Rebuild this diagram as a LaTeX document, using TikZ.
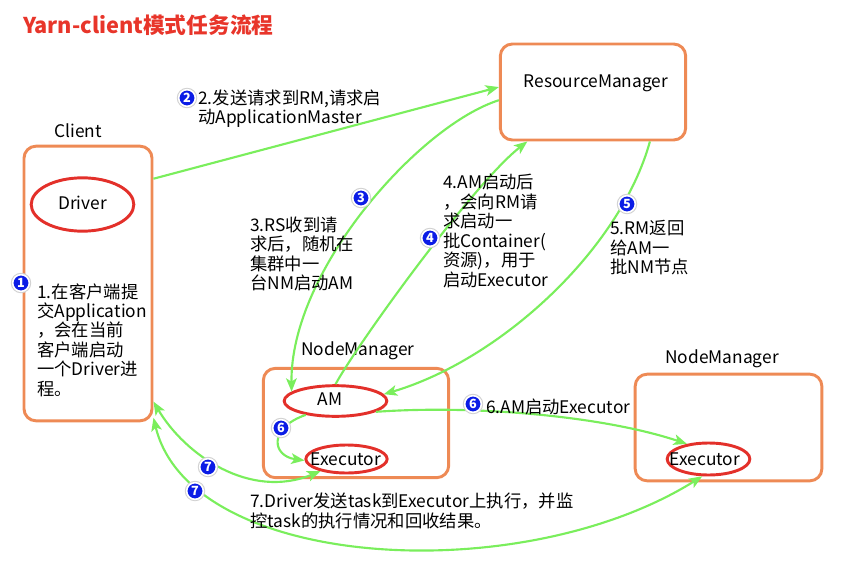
\documentclass[tikz,border=0pt]{standalone}
\usepackage{fontspec}
\setmainfont{Noto Sans CJK SC}
\definecolor{boxorange}{HTML}{EE8A55}
\definecolor{procred}{HTML}{E3302A}
\definecolor{flowgreen}{HTML}{7AEE5C}
\definecolor{badgeblue}{HTML}{0B1CE6}
\definecolor{titlered}{HTML}{E8352A}
\usetikzlibrary{arrows.meta,shapes.geometric}

\tikzset{
  nodebox/.style={rectangle, draw=boxorange, line width=2.2pt,
    rounded corners=9pt, inner sep=0pt},
  proc/.style={ellipse, draw=procred, line width=2.2pt, inner sep=0pt},
  flow/.style={draw=flowgreen, line width=1.6pt,
    -{Stealth[length=10pt,width=8pt,inset=2.5pt]}},
  flowboth/.style={flow,
    {Stealth[length=10pt,width=8pt,inset=2.5pt]}-{Stealth[length=10pt,width=8pt,inset=2.5pt]}},
  badge/.style={circle, fill=badgeblue, draw=white, line width=1.2pt,
    preaction={draw=black!18, line width=2.8pt}, text=white,
    font=\bfseries\fontsize{9.5}{9.5}\selectfont, minimum size=12.5pt, inner sep=0pt},
  note/.style={anchor=west, align=left, inner sep=0pt,
    font=\fontsize{13}{14.6}\selectfont},
  tag/.style={inner sep=0pt, font=\fontsize{13}{14.6}\selectfont}
}

\begin{document}
\begin{tikzpicture}[x=0.75pt, y=-0.75pt]
  \useasboundingbox (0,0) rectangle (862,570);

  \node[anchor=west, inner sep=0pt, text=titlered,
    font=\bfseries\fontsize{16.3}{19}\selectfont] (title) at (23,25)
    {Yarn-client模式任务流程};

  % client side
  \node[tag] (clientlbl) at (78,131) {Client};
  \node[nodebox, minimum width=96pt, minimum height=206pt] (client) at (88,283.5) {};
  \node[proc, minimum width=77pt, minimum height=40pt] (driver) at (82.5,204.5) {};
  \node[tag] (drivertxt) at (82.5,203) {Driver};
  \node[note] (note1) at (37,340)
    {1.在客户端提\\交Application\\，会在当前\\客户端启动\\一个Driver进\\程。};
  \node[badge] (b1) at (21,283) {1};

  % resource manager
  \node[nodebox, minimum width=139pt, minimum height=72pt] (rm) at (593,92) {};
  \node[tag] (rmtxt) at (596,83) {ResourceManager};

  % node managers
  \node[tag] (nm1lbl) at (358,351) {NodeManager};
  \node[nodebox, minimum width=139pt, minimum height=82pt] (nm1) at (356,423) {};
  \node[proc, minimum width=77pt, minimum height=23pt] (am) at (335.5,401) {};
  \node[tag] (amtxt) at (330,399) {AM};
  \node[proc, minimum width=61pt, minimum height=21pt] (exec1) at (346.5,459) {};
  \node[tag] (exec1txt) at (346,459) {Executor};

  \node[tag] (nm2lbl) at (722,359) {NodeManager};
  \node[nodebox, minimum width=140pt, minimum height=80pt] (nm2) at (728.5,427.5) {};
  \node[proc, minimum width=62pt, minimum height=24pt] (exec2) at (708.5,459) {};
  \node[tag] (exec2txt) at (705,459) {Executor};

  % connectors
  \draw[flow] (client.58) -- (rm.177);
  \draw[flow] (rm.185) .. controls (420,125) and (290,270) .. (am.168);
  \draw[flow] (am.north) .. controls (360,340) and (475,182) .. (rm.217);
  \draw[flow] (rm.319) .. controls (620,250) and (500,360) .. (am.8);
  \draw[flow] (am.205) .. controls (268,428) and (272,456) .. (exec1.182);
  \draw[flow] (am.-15) .. controls (470,405) and (600,415) .. (exec2.145);
  \draw[flowboth] (client.-61) .. controls (185,455) and (250,500) .. (exec1.205);
  \draw[flowboth] (client.-64) .. controls (190,570) and (520,590) .. (exec2.250);

  % step labels
  \node[badge] (b2) at (187,98) {2};
  \node[note] (note2) at (198,108.5) {2.发送请求到RM,请求启\\动ApplicationMaster};
  \node[badge] (b3) at (361,198) {3};
  \node[note] (note3) at (250,254) {3.RS收到请\\求后，随机在\\集群中一\\台NM启动AM};
  \node[badge] (b4) at (430,238) {4};
  \node[note] (note4) at (443,231)
    {4.AM启动后\\，会向RM请\\求启动一\\批Container(\\资源)，用于\\启动Executor};
  \node[badge] (b5) at (627,204) {5};
  \node[note] (note5) at (610,248) {5.RM返回\\给AM一\\批NM节点};
  \node[badge] (b6a) at (281,428) {6};
  \node[badge] (b6b) at (473,404) {6};
  \node[note] (note6) at (486,407) {6.AM启动Executor};
  \node[badge] (b7a) at (208,467) {7};
  \node[badge] (b7b) at (195,491) {7};
  \node[note] (note7) at (250,511)
    {7.Driver发送task到Executor上执行，并监\\控task的执行情况和回收结果。};
\end{tikzpicture}
\end{document}
